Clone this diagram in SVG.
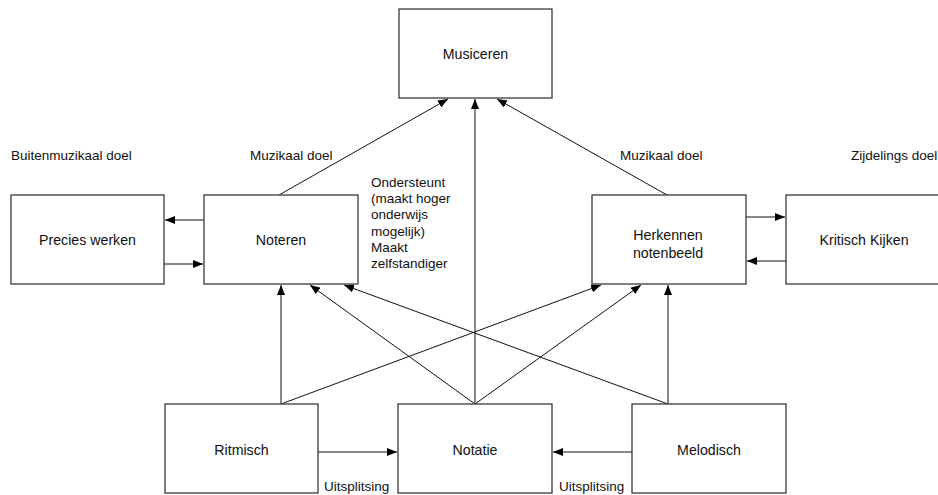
<svg xmlns="http://www.w3.org/2000/svg" width="938" height="495" viewBox="0 0 938 495">
<style>
.box{fill:#fff;stroke:#3a3a3a;stroke-width:1.3}
.lbl{font-family:"Liberation Sans",Arial,sans-serif;font-size:14.2px;fill:#111;text-anchor:middle}
.sm{font-family:"Liberation Sans",Arial,sans-serif;font-size:13.5px;fill:#111}
.ln{stroke:#111;stroke-width:1;fill:none;marker-end:url(#ah)}
</style>
<defs>
<marker id="ah" markerUnits="userSpaceOnUse" markerWidth="10" markerHeight="8" refX="10" refY="4" orient="auto" viewBox="0 0 10 8">
<path d="M0,0 L10,4 L0,8 z" fill="#000"/>
</marker>
</defs>
<rect width="938" height="495" fill="#fff"/>
<g id="connectors">
<line class="ln" x1="279" y1="195" x2="448" y2="99"/>
<line class="ln" x1="667" y1="195" x2="497" y2="99"/>
<line class="ln" x1="475" y1="404" x2="475" y2="99"/>
<line class="ln" x1="204" y1="220" x2="165" y2="220"/>
<line class="ln" x1="164" y1="264" x2="203" y2="264"/>
<line class="ln" x1="746" y1="217" x2="785" y2="217"/>
<line class="ln" x1="786" y1="261" x2="747" y2="261"/>
<line class="ln" x1="281" y1="404" x2="281" y2="285"/>
<line class="ln" x1="281" y1="404" x2="601" y2="285"/>
<line class="ln" x1="475" y1="404" x2="310" y2="285"/>
<line class="ln" x1="475" y1="404" x2="641" y2="285"/>
<line class="ln" x1="668" y1="404" x2="344" y2="285"/>
<line class="ln" x1="668" y1="404" x2="668" y2="285"/>
<line class="ln" x1="318" y1="452" x2="397" y2="452"/>
<line class="ln" x1="632" y1="452" x2="553" y2="452"/>
</g>
<g id="musiceren"><rect class="box" x="399" y="9" width="153" height="89"/><text class="lbl" x="475.5" y="59">Musiceren</text></g>
<g id="precies"><rect class="box" x="11" y="195" width="153" height="89"/><text class="lbl" x="87.5" y="245">Precies werken</text></g>
<g id="noteren"><rect class="box" x="204" y="195" width="154" height="89"/><text class="lbl" x="281" y="245">Noteren</text></g>
<g id="herkennen"><rect class="box" x="592" y="195" width="154" height="89"/><text class="lbl" x="668" y="240">Herkennen</text><text class="lbl" x="668" y="258">notenbeeld</text></g>
<g id="kritisch"><rect class="box" x="786" y="195" width="156" height="89"/><text class="lbl" x="864" y="245">Kritisch Kijken</text></g>
<g id="ritmisch"><rect class="box" x="165" y="404" width="153" height="89"/><text class="lbl" x="241.5" y="455">Ritmisch</text></g>
<g id="notatie"><rect class="box" x="398" y="404" width="154" height="89"/><text class="lbl" x="475" y="455">Notatie</text></g>
<g id="melodisch"><rect class="box" x="632" y="404" width="154" height="89"/><text class="lbl" x="709" y="455">Melodisch</text></g>
<g id="labels">
<text class="sm" x="11" y="160">Buitenmuzikaal doel</text>
<text class="sm" x="250" y="160">Muzikaal doel</text>
<text class="sm" x="620" y="160">Muzikaal doel</text>
<text class="sm" x="851" y="160">Zijdelings doel</text>
<text class="sm" x="371" y="187">Ondersteunt</text>
<text class="sm" x="371" y="203.2">(maakt hoger</text>
<text class="sm" x="371" y="219.4">onderwijs</text>
<text class="sm" x="371" y="235.6">mogelijk)</text>
<text class="sm" x="371" y="251.8">Maakt</text>
<text class="sm" x="371" y="268">zelfstandiger</text>
<text class="sm" x="324" y="491">Uitsplitsing</text>
<text class="sm" x="559" y="491">Uitsplitsing</text>
</g>
</svg>
